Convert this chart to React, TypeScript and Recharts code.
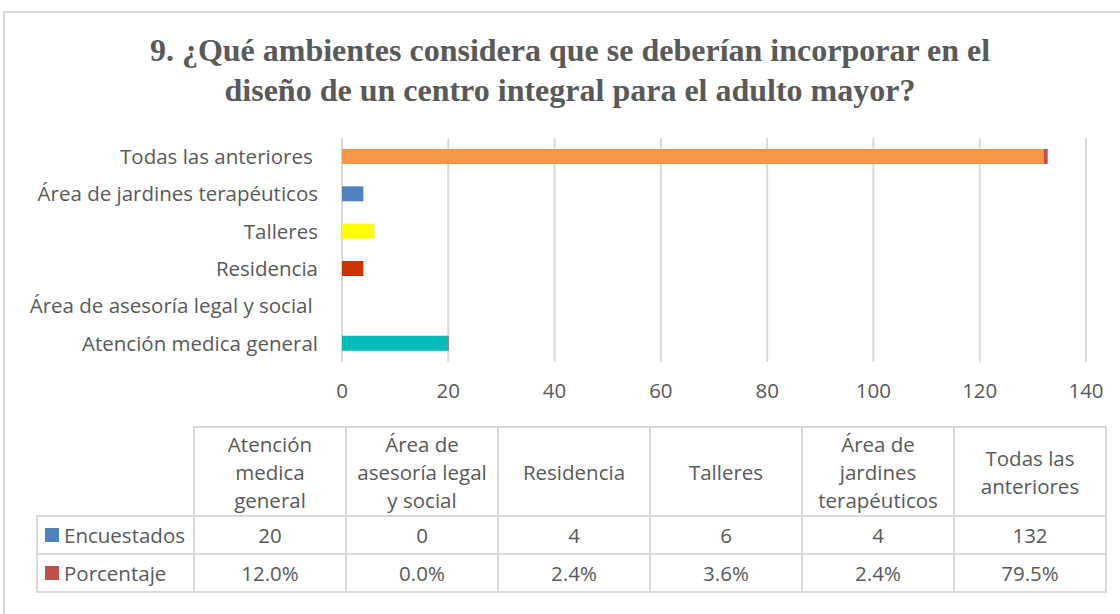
import { BarChart, Bar, XAxis, YAxis, CartesianGrid, Cell } from 'recharts';

const categories = [
  'Atención medica general',
  'Área de asesoría legal y social ',
  'Residencia',
  'Talleres',
  'Área de jardines terapéuticos',
  'Todas las anteriores ',
];
const headerLines = [
  ['Atención', 'medica', 'general'],
  ['Área de', 'asesoría legal', 'y social'],
  ['Residencia'],
  ['Talleres'],
  ['Área de', 'jardines', 'terapéuticos'],
  ['Todas las', 'anteriores'],
];
const encuestados = [20, 0, 4, 6, 4, 132];
const porcentaje = [0.12, 0, 0.024, 0.036, 0.024, 0.795];
const barColors = ['#00BDB9', '#8064A2', '#CC3300', '#FFFF00', '#4F81BD', '#F79646'];
const xTicks = [0, 20, 40, 60, 80, 100, 120, 140];

const TEXT = '#595959';
const FONT = '"Open Sans", Lato, sans-serif';
const FS = 20.5;

const data = categories.map((name, i) => ({
  name,
  encuestados: encuestados[i],
  porcentaje: porcentaje[i],
}));

function CategoryTick({ x, y, payload }: any) {
  const label = String(payload.value).replace(/ $/, '\u00A0');
  return (
    <text x={x} y={y} dy="0.35em" textAnchor="end" fill={TEXT} fontSize={FS} fontFamily={FONT}>
      {label}
    </text>
  );
}

const COL_X = 193;
const COL_W = 152;
const cell = { position: 'absolute' as const, boxSizing: 'border-box' as const, border: '2px solid #d9d9d9' };

function DataTable() {
  return (
    <div style={{ position: 'absolute', left: 0, top: 0, fontFamily: FONT, fontSize: FS, color: TEXT }}>
      {headerLines.map((lines, i) => (
        <div
          key={'h' + i}
          style={{
            ...cell,
            left: COL_X + i * COL_W,
            top: 426,
            width: COL_W + 2,
            height: 91,
            display: 'flex',
            flexDirection: 'column',
            justifyContent: 'center',
            alignItems: 'center',
            lineHeight: '28px',
            whiteSpace: 'nowrap',
          }}
        >
          {lines.map((l) => (
            <div key={l}>{l}</div>
          ))}
        </div>
      ))}
      {[
        { label: 'Encuestados', color: '#4F81BD', values: encuestados.map((v) => String(v)), top: 515 },
        { label: 'Porcentaje', color: '#C0504D', values: porcentaje.map((v) => (v * 100).toFixed(1) + '%'), top: 553 },
      ].map((row) => (
        <div key={row.label}>
          <div
            style={{
              ...cell,
              left: 36,
              top: row.top,
              width: COL_X - 36 + 2,
              height: 40,
              display: 'flex',
              alignItems: 'center',
              paddingLeft: 7,
              whiteSpace: 'nowrap',
            }}
          >
            <span style={{ display: 'inline-block', flex: 'none', width: 14, height: 14, background: row.color, marginRight: 5 }} />
            {row.label}
          </div>
          {row.values.map((v, i) => (
            <div
              key={i}
              style={{
                ...cell,
                left: COL_X + i * COL_W,
                top: row.top,
                width: COL_W + 2,
                height: 40,
                display: 'flex',
                alignItems: 'center',
                justifyContent: 'center',
              }}
            >
              {v}
            </div>
          ))}
        </div>
      ))}
    </div>
  );
}

export default function App() {
  return (
    <div style={{ position: 'fixed', left: 0, top: 0, width: 1120, height: 614, background: '#fff', overflow: 'hidden' }}>
      <div style={{ position: 'absolute', left: 3, top: 11, width: 1130, height: 620, border: '2px solid #d9d9d9', boxSizing: 'border-box' }} />
      <div
        style={{
          position: 'absolute',
          left: 0,
          top: 30,
          width: 1140,
          textAlign: 'center',
          fontFamily: '"Liberation Serif", "Times New Roman", serif',
          fontWeight: 'bold',
          fontSize: 32,
          lineHeight: '40px',
          color: TEXT,
        }}
      >
        9. ¿Qué ambientes considera que se deberían incorporar en el
        <br />
        diseño de un centro integral para el adulto mayor?
      </div>
      <div style={{ position: 'absolute', left: 0, top: 0 }}>
        <BarChart
          width={1120}
          height={614}
          data={data}
          layout="vertical"
          margin={{ top: 138, right: 34, left: 12, bottom: 222 }}
          barSize={15}
        >
          <CartesianGrid horizontal={false} stroke="#d9d9d9" strokeWidth={2} />
          <XAxis
            type="number"
            domain={[0, 140]}
            ticks={xTicks}
            axisLine={false}
            tickLine={false}
            tickMargin={15}
            height={30}
            tick={{ fill: TEXT, fontSize: FS, fontFamily: FONT }}
          />
          <YAxis
            type="category"
            dataKey="name"
            reversed
            width={330}
            axisLine={false}
            tickLine={false}
            tickMargin={18}
            interval={0}
            tick={<CategoryTick />}
          />
          <Bar dataKey="encuestados" stackId="a" isAnimationActive={false}>
            {data.map((_, i) => (
              <Cell key={i} fill={barColors[i]} />
            ))}
          </Bar>
          <Bar dataKey="porcentaje" stackId="a" fill="#C0504D" isAnimationActive={false} />
        </BarChart>
      </div>
      <DataTable />
    </div>
  );
}
